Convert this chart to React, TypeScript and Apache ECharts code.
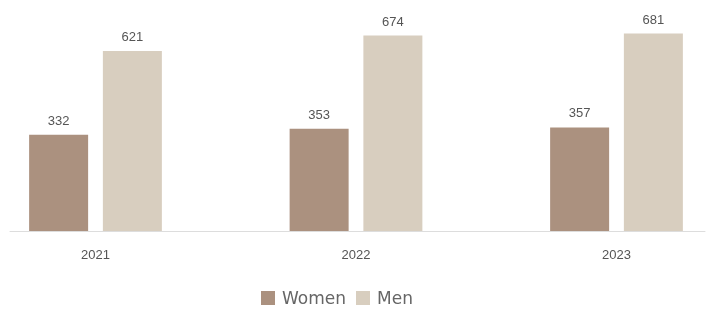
import React, { useEffect, useRef } from "react";
import * as echarts from "echarts";

const categories = ["2021", "2022", "2023"];
const women = [332, 353, 357];
const men = [621, 674, 681];

export default function App() {
  const ref = useRef<HTMLDivElement>(null);
  useEffect(() => {
    const chart = echarts.init(ref.current!, null, { renderer: "svg" });
    const labelStyle = {
      show: true,
      position: "top",
      distance: 8,
      color: "#555555",
      fontSize: 13,
      fontFamily: "Liberation Sans, Arial, sans-serif",
    };
    chart.setOption({
      animation: false,
      textStyle: { fontFamily: "Liberation Sans, Arial, sans-serif" },
      legend: {
        data: ["Women", "Men"],
        top: 289,
        left: 261,
        padding: 0,
        itemWidth: 14,
        itemHeight: 14,
        itemGap: 10,
        icon: "rect",
        textStyle: {
          color: "#666666",
          fontSize: 17,
          lineHeight: 18,
          fontFamily: "DejaVu Sans, sans-serif",
          padding: [0, 0, 0, 2],
        },
      },
      grid: [
        { left: 95.5, right: 95.5, top: 28, height: 203, containLabel: false },
        { left: 10, right: 7, top: 28, height: 203, containLabel: false },
      ],
      xAxis: [
        {
          type: "category",
          gridIndex: 0,
          data: categories,
          boundaryGap: false,
          axisLine: { show: false },
          axisTick: { show: false },
          axisLabel: { color: "#555555", fontSize: 13, margin: 17 },
        },
        {
          type: "category",
          gridIndex: 1,
          data: [""],
          axisLine: { show: true, lineStyle: { color: "#dddddd", width: 1 } },
          axisTick: { show: false },
          axisLabel: { show: false },
        },
      ],
      yAxis: [
        { type: "value", gridIndex: 0, min: 0, max: 700, show: false, splitLine: { show: false } },
        { type: "value", gridIndex: 1, min: 0, max: 700, show: false, splitLine: { show: false } },
      ],
      series: [
        {
          name: "Women",
          type: "bar",
          data: women,
          barWidth: 59,
          barGap: "25%",
          itemStyle: { color: "#ab917f" },
          label: labelStyle,
        },
        {
          name: "Men",
          type: "bar",
          data: men,
          barWidth: 59,
          barGap: "25%",
          itemStyle: { color: "#d8cebf" },
          label: labelStyle,
        },
      ],
    });
    return () => chart.dispose();
  }, []);
  return (
    <div
      ref={ref}
      style={{ position: "fixed", left: 0, top: 0, width: 712, height: 309 }}
    />
  );
}
